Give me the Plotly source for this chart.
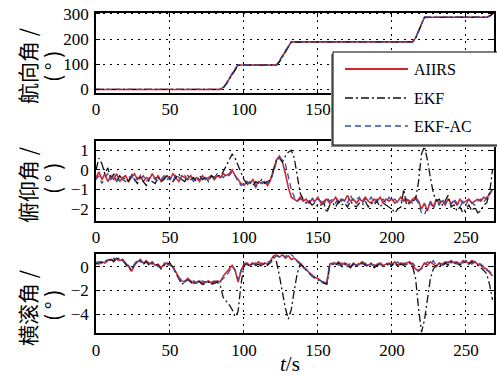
import plotly.graph_objects as go

W, H = 497, 376

SERIES = ["AIIRS", "EKF", "EKF-AC"]
COLORS = ["#d3262e", "#111111", "#3a4d9c"]
DASHES = ["solid", "8px,3px,2px,3px", "6px,4px"]
WIDTHS = [1.6, 1.3, 1.3]

YLABELS = ["航向角 /", "俯仰角 /", "横滚角 /"]
UNIT = "( ° )"
XLABEL = "<i>t</i>/s"

X_TICKS = [0, 50, 100, 150, 200, 250]
Y_TICKS = [[0, 100, 200, 300], [-2, -1, 0, 1], [-4, -2, 0]]

# heading (deg)
HEAD_T = [0, 20, 40, 60, 84, 86, 88, 90, 92, 94, 96, 100, 110, 122, 124, 126, 128, 130, 132,
          150, 180, 214, 216, 218, 220, 222, 240, 264, 266, 268]
HEAD_AIIRS = [0, 0, 0, 0, 0, 8, 22, 42, 62, 82, 97, 97, 97, 97, 112, 132, 152, 172, 189,
              189, 189, 189, 205, 232, 262, 287, 287, 287, 292, 300]
HEAD_EKF = [0, 0, 0, 0, 0, 6, 20, 40, 60, 80, 96, 97, 97, 97, 110, 130, 150, 170, 188,
            189, 189, 189, 203, 230, 260, 286, 287, 287, 291, 299]
HEAD_EKFAC = [0, 0, 0, 0, 0, 9, 24, 44, 64, 84, 98, 97, 97, 97, 113, 134, 154, 174, 190,
              189, 189, 189, 206, 234, 264, 288, 287, 287, 293, 301]

# time grid for pitch / roll (s)
T = list(range(0, 269, 2))

PITCH_AIIRS = [
    -0.4, -0.1, -0.5, -0.2, -0.6, -0.3, -0.5, -0.2, -0.6, -0.4,
    -0.3, -0.6, -0.4, -0.2, -0.5, -0.3, -0.6, -0.4, -0.5, -0.2,
    -0.5, -0.3, -0.6, -0.4, -0.3, -0.5, -0.2, -0.4, -0.6, -0.3,
    -0.4, -0.5, -0.3, -0.5, -0.4, -0.6, -0.3, -0.5, -0.4, -0.3,
    -0.5, -0.3, -0.4, -0.2, -0.3, -0.2, 0.0, -0.3, -0.5, -0.7,
    -0.8, -0.6, -0.7, -0.5, -0.8, -0.6, -0.7, -0.6, -0.8, -0.5,
    0.0, 0.5, 0.7, 0.4, -0.2, -0.9, -1.4, -1.5, -1.6, -1.4,
    -1.6, -1.5, -1.7, -1.5, -1.6, -1.4, -1.7, -1.6, -1.5, -1.7,
    -1.6, -1.4, -1.7, -1.5, -1.6, -1.3, -1.6, -1.5, -1.7, -1.5,
    -1.6, -1.4, -1.6, -1.7, -1.5, -1.6, -1.4, -1.7, -1.5, -1.6,
    -1.5, -1.7, -1.6, -1.4, -1.6, -1.5, -1.7, -1.5, -1.4, -1.6,
    -2.0, -1.7, -2.1, -1.6, -1.9, -1.5, -1.7, -1.6, -1.8, -1.5,
    -1.7, -1.6, -1.8, -1.5, -1.7, -1.6, -1.5, -1.7, -1.6, -1.5,
    -1.6, -1.4, -1.5, -1.2, -1.0]
PITCH_EKF = [
    0.0, 0.6, 0.3, -0.2, 0.1, -0.5, -0.2, -0.6, -0.3, -0.5,
    -0.4, -0.6, -0.2, -0.5, -0.7, -0.4, -0.6, -0.8, -0.5, -0.6,
    -0.7, -0.4, -0.6, -0.5, -0.3, -0.5, -0.6, -0.4, -0.2, -0.5,
    -0.6, -0.3, -0.5, -0.4, -0.6, -0.3, -0.5, -0.4, -0.6, -0.3,
    -0.4, -0.3, -0.3, -0.1, 0.2, 0.5, 0.8, 0.6, 0.2, -0.2,
    -0.5, -0.7, -0.6, -0.8, -0.6, -0.7, -0.5, -0.7, -0.6, -0.5,
    0.0, 0.5, 0.6, 0.4, 0.7, 0.9, 1.0, 0.6, -0.3, -1.2,
    -1.5, -1.7, -1.6, -1.8, -1.7, -1.9, -1.8, -1.7, -2.2, -1.8,
    -1.7, -1.9, -1.6, -1.8, -1.7, -1.9, -1.6, -1.8, -1.9, -1.7,
    -1.8, -1.6, -1.9, -1.7, -1.8, -1.6, -1.9, -1.7, -1.8, -1.9,
    -2.0, -2.2, -2.0, -1.9, -1.0, -1.8, -1.7, -1.6, -1.5, -0.6,
    0.8, 1.2, 0.5, -0.4, -1.2, -1.6, -1.5, -1.8, -1.6, -1.3,
    -1.9, -1.8, -2.1, -1.9, -2.2, -2.0, -1.8, -2.1, -1.9, -2.2,
    -2.1, -1.8, -1.7, -1.2, 0.0]
PITCH_EKFAC = [
    -0.5, -0.3, -0.7, -0.4, -0.2, -0.5, -0.3, -0.6, -0.4, -0.5,
    -0.6, -0.4, -0.3, -0.6, -0.4, -0.5, -0.3, -0.6, -0.4, -0.5,
    -0.4, -0.6, -0.5, -0.3, -0.5, -0.4, -0.6, -0.2, -0.4, -0.5,
    -0.3, -0.5, -0.4, -0.6, -0.4, -0.5, -0.3, -0.4, -0.5, -0.4,
    -0.4, -0.2, -0.3, -0.4, -0.2, -0.3, -0.1, -0.3, -0.6, -0.8,
    -0.7, -0.8, -0.6, -0.7, -0.9, -0.6, -0.7, -0.5, -0.7, -0.6,
    -0.1, 0.4, 0.6, 0.5, 0.3, -0.4, -1.0, -1.4, -1.6, -1.5,
    -1.5, -1.7, -1.6, -1.4, -1.7, -1.5, -1.6, -1.8, -1.4, -1.6,
    -1.5, -1.7, -1.4, -1.6, -1.5, -1.7, -1.3, -1.6, -1.5, -1.4,
    -1.7, -1.5, -1.6, -1.4, -1.7, -1.5, -1.6, -1.5, -1.7, -1.4,
    -1.6, -1.5, -1.7, -1.6, -1.5, -1.4, -1.6, -1.7, -1.5, -1.7,
    -2.2, -2.3, -1.9, -1.7, -2.0, -1.6, -1.8, -1.5, -1.7, -1.6,
    -1.8, -1.5, -1.7, -1.9, -1.6, -1.8, -1.5, -1.7, -1.8, -1.6,
    -1.5, -1.7, -1.4, -1.3, -1.0]

ROLL_AIIRS = [
    0.3, 0.2, 0.4, 0.3, 0.5, 0.6, 0.4, 0.7, 0.5, 0.6,
    0.3, 0.0, -0.4, 0.1, 0.4, 0.6, 0.3, 0.5, 0.2, 0.4,
    0.1, 0.2, -0.1, 0.2, 0.3, 0.1, 0.0, -0.5, -0.9, -1.2,
    -1.3, -1.0, -1.2, -1.4, -1.3, -1.2, -1.4, -1.3, -1.2, -1.4,
    -1.3, -1.2, -1.3, -0.8, -0.5, -0.2, 0.1, -0.3, -1.3, -0.4,
    0.2, 0.3, 0.1, 0.3, 0.2, 0.4, 0.1, 0.3, 0.2, 0.5,
    0.9, 1.0, 0.8, 1.0, 0.7, 0.9, 0.6, 0.7, 0.5, 0.3,
    0.0, -0.2, -0.5, -0.7, -0.9, -1.0, -1.2, -1.3, -1.4, 0.2,
    0.3, 0.2, 0.4, 0.1, 0.3, 0.2, 0.0, 0.3, 0.1, 0.2,
    0.4, 0.2, 0.1, 0.3, 0.0, 0.2, 0.3, 0.1, 0.2, 0.3,
    0.2, 0.4, 0.1, 0.3, 0.2, 0.3, 0.4, 0.1, -0.2, -0.4,
    -0.1, 0.3, 0.1, 0.4, 0.2, 0.0, 0.3, 0.2, 0.4, 0.3,
    0.5, 0.3, 0.4, 0.2, 0.5, 0.4, 0.3, 0.5, 0.4, 0.2,
    0.1, -0.1, -0.2, -0.5, -0.8]
ROLL_EKF = [
    0.2, 0.4, 0.3, 0.5, 0.4, 0.6, 0.5, 0.8, 0.6, 0.5,
    0.2, -0.1, -0.3, 0.2, 0.5, 0.4, 0.2, 0.4, 0.1, 0.3,
    0.2, 0.1, -0.2, 0.1, 0.2, 0.3, -0.1, -0.6, -1.0, -1.5,
    -1.3, -1.1, -1.3, -1.5, -1.2, -1.3, -1.5, -1.4, -1.3, -1.5,
    -1.4, -1.3, -1.6, -2.6, -2.9, -3.2, -3.6, -4.2, -3.8, -1.5,
    0.1, 0.2, 0.0, 0.3, 0.1, 0.2, 0.0, 0.3, 0.1, 0.4,
    0.8, 0.4, -0.8, -2.2, -3.5, -4.4, -3.6, -2.0, -0.6, 0.2,
    0.0, -0.3, -0.6, -0.8, -1.0, -1.1, -1.3, -1.4, -1.5, 0.1,
    0.2, 0.1, 0.3, 0.0, 0.2, 0.1, -0.1, 0.2, 0.0, 0.1,
    0.3, 0.1, 0.0, 0.2, -0.1, 0.1, 0.2, 0.0, 0.1, 0.2,
    0.1, 0.3, 0.0, 0.2, 0.1, 0.2, 0.3, 0.0, -1.0, -3.5,
    -5.5, -4.5, -2.5, -1.0, -0.2, 0.1, 0.2, 0.0, 0.3, 0.1,
    0.4, 0.2, 0.3, 0.1, 0.4, 0.3, 0.2, 0.4, 0.3, 0.1,
    -0.1, -0.3, -0.6, -1.5, -2.8]
ROLL_EKFAC = [
    0.4, 0.3, 0.5, 0.4, 0.6, 0.5, 0.7, 0.6, 0.4, 0.6,
    0.2, 0.1, -0.3, 0.2, 0.6, 0.5, 0.3, 0.4, 0.3, 0.2,
    0.2, 0.0, -0.1, 0.3, 0.2, 0.0, -0.1, -0.6, -1.0, -1.3,
    -1.2, -1.1, -1.3, -1.2, -1.4, -1.3, -1.2, -1.3, -1.4, -1.3,
    -1.2, -1.3, -1.2, -1.0, -0.8, -0.4, 0.0, -0.3, -1.1, -0.3,
    0.3, 0.2, 0.4, 0.2, 0.3, 0.1, 0.3, 0.2, 0.4, 0.3,
    0.7, 0.9, 0.8, 1.0, 0.8, 1.2, 1.0, 0.8, 0.4, 0.2,
    -0.1, -0.3, -0.5, -0.8, -0.9, -1.1, -1.2, -1.4, -1.3, 0.3,
    0.2, 0.4, 0.1, 0.3, 0.2, 0.0, 0.3, 0.2, 0.1, 0.3,
    0.2, 0.3, 0.0, 0.2, 0.1, 0.3, 0.2, 0.0, 0.3, 0.2,
    0.3, 0.2, 0.4, 0.1, 0.3, 0.2, 0.1, 0.3, 0.0, -0.3,
    -0.2, 0.1, 0.4, 0.2, 0.5, 0.1, 0.3, 0.1, 0.3, 0.4,
    0.3, 0.5, 0.2, 0.4, 0.3, 0.5, 0.4, 0.2, 0.4, 0.3,
    0.2, 0.0, -0.3, -0.4, -0.7]


def px(x):
    return x / W


def py(y):
    return 1 - y / H


SERIF = "Liberation Serif, Times New Roman, Times, serif"

# panel pixel boxes: (top, bottom)
PANELS = [(12.7, 92.7), (141.0, 220.7), (254.3, 333.3)]
X_PIX = (96, 494)
Y_RANGES = [[-13, 305], [-2.6, 1.47], [-5.6, 1.03]]
X_RANGE = [0, 269]

panel_data = [
    (HEAD_T, [HEAD_AIIRS, HEAD_EKF, HEAD_EKFAC]),
    (T, [PITCH_AIIRS, PITCH_EKF, PITCH_EKFAC]),
    (T, [ROLL_AIIRS, ROLL_EKF, ROLL_EKFAC]),
]

fig = go.Figure()
for p, (tx, sets) in enumerate(panel_data):
    sfx = "" if p == 0 else str(p + 1)
    for s, vals in enumerate(sets):
        fig.add_trace(go.Scatter(
            x=tx, y=vals, mode="lines", name=SERIES[s], showlegend=False,
            line=dict(color=COLORS[s], width=WIDTHS[s], dash=DASHES[s]),
            xaxis="x" + sfx, yaxis="y" + sfx))

tickfont = dict(family=SERIF, size=17, color="black")
axis_common = dict(
    showline=True, linecolor="black", linewidth=1.6, mirror="ticks",
    ticks="inside", ticklen=4, tickcolor="black", tickwidth=1,
    showgrid=True, gridcolor="black", gridwidth=1, griddash="2px,5px",
    zeroline=False, tickfont=tickfont, automargin=False,
)

layout = dict(
    width=W, height=H, margin=dict(l=0, r=0, t=0, b=0, pad=0),
    paper_bgcolor="white", plot_bgcolor="white", showlegend=False,
)
for p, (top, bot) in enumerate(PANELS):
    sfx = "" if p == 0 else str(p + 1)
    layout["xaxis" + sfx] = dict(
        axis_common, domain=[px(X_PIX[0]), px(X_PIX[1])], range=X_RANGE,
        tickvals=X_TICKS, anchor="y" + sfx)
    layout["yaxis" + sfx] = dict(
        axis_common, domain=[py(bot), py(top)], range=Y_RANGES[p],
        tickvals=Y_TICKS[p], anchor="x" + sfx, ticklabelstandoff=2)
fig.update_layout(**layout)

annotations = []
# y-axis labels (two rotated lines each)
label_pos = [((27, 66), (52, 67)), ((27, 185), (52, 179)), ((27, 308), (52, 306))]
cjk = dict(family="Noto Sans CJK SC", size=21, color="black")
for p, ((x1, y1), (x2, y2)) in enumerate(label_pos):
    annotations.append(dict(text=YLABELS[p], x=px(x1), y=py(y1), xref="paper", yref="paper",
                            textangle=-90, showarrow=False, font=cjk,
                            xanchor="center", yanchor="middle"))
    annotations.append(dict(text=UNIT, x=px(x2), y=py(y2), xref="paper", yref="paper",
                            textangle=-90, showarrow=False, font=cjk,
                            xanchor="center", yanchor="middle"))
annotations.append(dict(text=XLABEL, x=px(290), y=py(364), xref="paper", yref="paper",
                        showarrow=False, font=dict(family=SERIF, size=21, color="black"),
                        xanchor="center", yanchor="middle"))

# legend box (drawn manually so the line samples match the original length)
shapes = [
    dict(type="rect", xref="paper", yref="paper", x0=px(331), x1=px(500), y0=py(147), y1=py(54),
         fillcolor="#888888", line=dict(width=0), layer="above"),
    dict(type="rect", xref="paper", yref="paper", x0=px(333), x1=px(502), y0=py(145), y1=py(52),
         fillcolor="white", line=dict(color="black", width=1), layer="above"),
]
leg_y = [69, 98, 126]
for s in range(3):
    shapes.append(dict(type="line", xref="paper", yref="paper", x0=px(345), x1=px(408),
                       y0=py(leg_y[s]), y1=py(leg_y[s]), layer="above",
                       line=dict(color=COLORS[s], width=WIDTHS[s] + 0.4, dash=DASHES[s])))
    annotations.append(dict(text=SERIES[s], x=px(412), y=py(leg_y[s]), xref="paper", yref="paper",
                            showarrow=False, xanchor="left", yanchor="middle",
                            font=dict(family=SERIF, size=16, color="black")))

fig.update_layout(annotations=annotations, shapes=shapes)
fig.write_html("out.html", config={"displayModeBar": False},
               post_script="document.body.style.margin='0px';document.body.style.overflow='hidden';")
